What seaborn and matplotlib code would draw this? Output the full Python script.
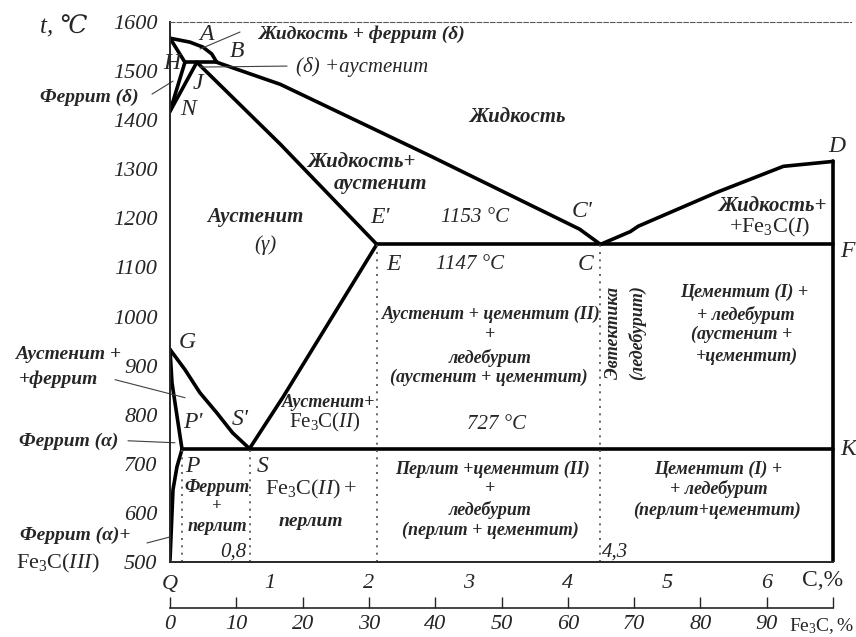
import matplotlib
matplotlib.use("Agg")
import matplotlib.pyplot as plt
import seaborn as sns

# Fe-Fe3C diagram, values (C, % ; t, degC)
ab_c = [0.0, 0.20, 0.33, 0.42, 0.47]
ab_t = [1567, 1559, 1549, 1535, 1518]
ah_c = [0.0, 0.15]
ah_t = [1567, 1518]
hjb_c = [0.15, 0.47]
hjb_t = [1518, 1518]
nh_c = [0.0, 0.15]
nh_t = [1418, 1518]
nj_c = [0.0, 0.27]
nj_t = [1418, 1518]
bc_c = [0.47, 1.11, 2.62, 4.12, 4.33]
bc_t = [1518, 1473, 1327, 1178, 1147]
je_c = [0.27, 1.11, 2.08]
je_t = [1518, 1351, 1147]
cd_c = [4.33, 4.63, 4.71, 5.50, 6.17, 6.67]
cd_t = [1147, 1173, 1184, 1253, 1306, 1316]
ecf_c = [2.08, 6.67]
ecf_t = [1147, 1147]
dk_c = [6.67, 6.67]
dk_t = [1316, 500]
es_c = [2.08, 1.14, 0.80]
es_t = [1147, 837, 731]
gs_c = [0.0, 0.15, 0.30, 0.47, 0.63, 0.80]
gs_t = [933, 892, 845, 804, 763, 731]
gp_c = [0.0, 0.02, 0.12]
gp_t = [933, 865, 731]
pq_c = [0.12, 0.07, 0.03, 0.01, 0.0]
pq_t = [729, 694, 647, 551, 504]
psk_c = [0.12, 6.67]
psk_t = [731, 731]

# dotted verticals: (C, top t)
dotted_c = [0.12, 0.80, 2.08, 4.33]
dotted_top = [731, 731, 1147, 1147]

t_ticks = [500, 600, 700, 800, 900, 1000, 1100, 1200, 1300, 1400, 1500, 1600]
c_ticks = [0, 1, 2, 3, 4, 5, 6]
c_labels = ["Q", "1", "2", "3", "4", "5", "6"]
fe3c_ticks = [0, 10, 20, 30, 40, 50, 60, 70, 80, 90, 100]
fe3c_labels = ["0", "10", "20", "30", "40", "50", "60", "70", "80", "90", ""]
C_MAX = 6.67

sns.set_style("white")
plt.rcParams["font.family"] = ["Liberation Serif", "DejaVu Serif"]
plt.rcParams["mathtext.fontset"] = "custom"
plt.rcParams["mathtext.rm"] = "Liberation Serif"
plt.rcParams["mathtext.it"] = "Liberation Serif:italic"

W, H = 856, 637
fig = plt.figure(figsize=(W / 100, H / 100), dpi=100)
ax = fig.add_axes([170 / W, 1 - 562 / H, (851 - 170) / W, (562 - 22) / H])
ax.set_xlim(0, 6.85)
ax.set_ylim(500, 1600)

thick = dict(color="black", lw=2.6, estimator=None, sort=False, legend=False, ax=ax)
curves = [(ab_c, ab_t), (ah_c, ah_t), (hjb_c, hjb_t), (nh_c, nh_t), (nj_c, nj_t),
          (bc_c, bc_t), (je_c, je_t), (cd_c, cd_t), (ecf_c, ecf_t), (dk_c, dk_t),
          (es_c, es_t), (gs_c, gs_t), (gp_c, gp_t), (pq_c, pq_t), (psk_c, psk_t)]
for xs, ys in curves:
    sns.lineplot(x=xs, y=ys, **thick)

for c, top in zip(dotted_c, dotted_top):
    ax.plot([c, c], [500, top], color="0.3", lw=1.2, ls=(0, (1.2, 3.2)))

# spines and ticks
ax.spines["right"].set_visible(False)
ax.spines["top"].set_linestyle((0, (4, 2)))
ax.spines["top"].set_linewidth(0.8)
ax.spines["top"].set_color("0.35")
ax.spines["left"].set_linewidth(1.4)
ax.spines["bottom"].set_linewidth(1.4)
ax.spines["bottom"].set_bounds(0, C_MAX)
ax.set_yticks(t_ticks)
ax.set_yticklabels([str(t) for t in t_ticks])
ax.set_xticks(c_ticks)
ax.set_xticklabels(c_labels)
ax.tick_params(direction="in", length=7, width=1.0, labelsize=16, pad=9)
for lab in ax.get_xticklabels() + ax.get_yticklabels():
    lab.set_style("italic")

sec = ax.secondary_xaxis(-0.085, functions=(lambda c: c * 100 / C_MAX,
                                             lambda f: f * C_MAX / 100))
sec.set_xticks(fe3c_ticks)
sec.set_xticklabels(fe3c_labels)
sec.spines["bottom"].set_bounds(0, 100)
sec.spines["bottom"].set_linewidth(1.2)
sec.tick_params(direction="in", length=8, width=1.0, labelsize=16, pad=5)
for lab in sec.get_xticklabels():
    lab.set_style("italic")


def px(x, y):
    return (x - 170) / 99.4, 500 + (562 - y) / 0.49


def label(x, y, s, size=14, weight="bold", style="italic", **kw):
    cx, cy = px(x, y)
    ax.text(cx, cy, s, fontsize=size, fontweight=weight, fontstyle=style,
            ha=kw.pop("ha", "center"), va=kw.pop("va", "center"), clip_on=False, **kw)


def leader(x0, y0, x1, y1):
    a = px(x0, y0)
    b = px(x1, y1)
    ax.plot([a[0], b[0]], [a[1], b[1]], color="0.25", lw=0.8, clip_on=False)


# point letters
for (x, y, s) in [(206, 35, "A"), (237, 52, "B"), (172, 64, "H"), (198, 84, "J"),
                  (188, 110, "N"), (380, 218, "E'"), (582, 212, "C'"), (837, 147, "D"),
                  (847, 252, "F"), (848, 450, "K"), (393, 265, "E"), (585, 265, "C"),
                  (193, 423, "P'"), (240, 420, "S'"), (192, 467, "P"), (263, 467, "S"),
                  (187, 343, "G")]:
    label(x, y, s, size=17, weight="normal")

label(64, 28, "t, ℃", size=18, weight="normal")
label(822, 580, "C,%", size=17, weight="normal", style="normal")
label(854, 626, r"$\mathrm{Fe_3C,\%}$", size=14, weight="normal", ha="right")

label(361, 35, "Жидкость + феррит (δ)")
label(362, 68, "(δ) +аустенит", weight="normal", size=15)
label(89, 98, "Феррит (δ)")
label(517, 118, "Жидкость", size=15)
label(361, 163, "Жидкость+", size=15)
label(380, 185, "аустенит", size=15)
label(475, 218, "1153 °C", weight="normal", size=15)
label(772, 207, "Жидкость+", size=15)
label(770, 228, r"$\mathrm{+Fe_3C(}\mathit{I}\mathrm{)}$", size=16, weight="normal")
label(470, 265, "1147 °C", weight="normal", size=15)
label(255, 218, "Аустенит", size=15)
label(265, 246, "(γ)", size=15, weight="normal")

label(491, 315, "Аустенит + цементит (II)", size=13)
label(490, 335, "+", size=13)
label(490, 358, "ледебурит", size=13)
label(489, 378, "(аустенит + цементит)", size=13)
label(496, 425, "727 °C", weight="normal", size=15)
label(329, 403, "Аустенит+", size=13)
label(325, 423, r"$\mathrm{Fe_3C(}\mathit{II}\mathrm{)}$", size=15, weight="normal")

label(613, 333, "Эвтектика", size=13, rotation=90)
label(637, 333, "(ледебурит)", size=13, rotation=90)

label(744, 293, "Цементит (I) +", size=13)
label(746, 315, "+ ледебурит", size=13)
label(742, 335, "(аустенит +", size=13)
label(747, 357, "+цементит)", size=13)

label(718, 470, "Цементит (I) +", size=13)
label(719, 489, "+ ледебурит", size=13)
label(717, 510, "(перлит+цементит)", size=13)

label(492, 470, "Перлит +цементит (II)", size=13)
label(490, 489, "+", size=13)
label(490, 510, "ледебурит", size=13)
label(490, 530, "(перлит + цементит)", size=13)

label(217, 488, "Феррит", size=13)
label(217, 506, "+", size=12)
label(217, 527, "перлит", size=13)
label(233, 552, "0,8", size=15, weight="normal")
label(311, 490, r"$\mathrm{Fe_3C(}\mathit{II}\mathrm{)+}$", size=16, weight="normal")
label(311, 522, "перлит", size=14)
label(615, 552, "4,3", size=15, weight="normal")

label(68, 355, "Аустенит +", size=14)
label(58, 380, "+феррит", size=14)
label(69, 442, "Феррит (α)", size=14)
label(75, 535, "Феррит (α)+", size=14)
label(58, 563, r"$\mathrm{Fe_3C(}\mathit{III}\mathrm{)}$", size=16, weight="normal")

leader(200, 50, 240, 33)
leader(200, 68, 287, 67)
leader(152, 95, 173, 82)
leader(115, 380, 185, 398)
leader(128, 441, 175, 443)
leader(147, 543, 170, 537)

fig.savefig("out.png", dpi=100)
